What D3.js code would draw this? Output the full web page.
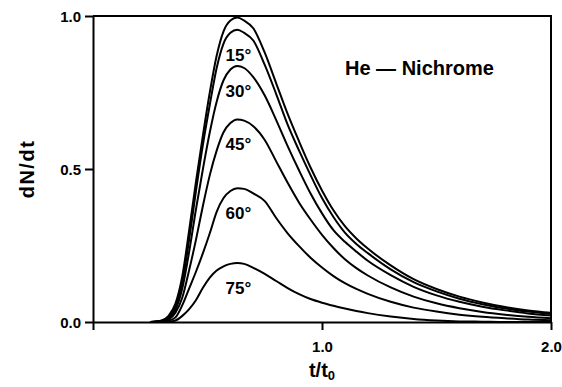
<!DOCTYPE html>
<html>
<head>
<meta charset="utf-8">
<script src="https://cdn.jsdelivr.net/npm/d3@7"></script>
<style>
  html, body { margin: 0; padding: 0; background: #fff; }
  svg { display: block; }
  text { font-family: "Liberation Sans", Arial, Helvetica, sans-serif; font-weight: bold; fill: #000; }
</style>
</head>
<body>
<svg id="chart" width="562" height="387"></svg>
<script>
// ---- data ----
const tValues = [0.25, 0.30, 0.33, 0.36, 0.39, 0.42, 0.45, 0.48, 0.51, 0.54, 0.57, 0.60, 0.63, 0.66, 0.70, 0.75, 0.80, 0.85, 0.90, 0.95, 1.00, 1.05, 1.10, 1.15, 1.20, 1.30, 1.40, 1.50, 1.60, 1.70, 1.80, 1.90, 2.00];
const angles = ["0°", "15°", "30°", "45°", "60°", "75°"];
const series0  = [0, .005, .02, .06, .15, .30, .46, .61, .75, .87, .95, .985, .995, .985, .96, .88, .78, .68, .59, .505, .43, .365, .313, .273, .24, .185, .14, .108, .083, .064, .049, .038, .03];
const series15 = [0, .004, .017, .05, .13, .27, .43, .58, .71, .83, .91, .945, .955, .945, .92, .84, .745, .645, .56, .48, .405, .343, .292, .255, .225, .172, .13, .10, .076, .058, .044, .034, .026];
const series30 = [0, .003, .013, .04, .11, .23, .37, .50, .62, .72, .79, .825, .837, .83, .80, .74, .66, .575, .495, .42, .355, .30, .262, .23, .20, .153, .115, .087, .066, .05, .038, .028, .021];
const series45 = [0, .002, .008, .03, .08, .17, .27, .38, .48, .56, .62, .65, .662, .658, .64, .595, .525, .455, .39, .335, .285, .242, .205, .176, .152, .113, .083, .061, .045, .033, .024, .017, .012];
const series60 = [0, .001, .004, .015, .055, .11, .165, .225, .29, .36, .405, .428, .437, .435, .42, .395, .34, .29, .248, .21, .178, .15, .127, .108, .092, .066, .047, .034, .024, .017, .012, .008, .006];
const series75 = [0, 0, .001, .005, .02, .042, .072, .112, .145, .168, .182, .19, .193, .19, .177, .157, .134, .111, .091, .075, .063, .053, .044, .036, .029, .018, .01, .005, .002, .001, 0, 0, 0];
const labelledAngles = ["15°", "30°", "45°", "60°", "75°"];
const labelT = 0.635;
const xTicks = [0, 1, 2];
const xTickLabels = ["", "1.0", "2.0"];
const yTicks = [0, 0.5, 1];
const yTickLabels = ["0.0", "0.5", "1.0"];
const seriesList = [series0, series15, series30, series45, series60, series75];

// ---- layout ----
const svg = d3.select("#chart");
const mLeft = 93, mRight = 551, mTop = 16, mBottom = 322;
const x = d3.scaleLinear().domain([0, 2]).range([mLeft, mRight]);
const y = d3.scaleLinear().domain([0, 1]).range([mBottom, mTop]);

// frame (top + right)
svg.append("path")
  .attr("d", `M${x(0)},${y(1)}H${x(2)}V${y(0)}`)
  .attr("fill", "none").attr("stroke", "#000").attr("stroke-width", 2);

// axes
const xAxis = d3.axisBottom(x).tickValues(xTicks).tickSize(8).tickSizeOuter(0)
  .tickFormat((d, i) => xTickLabels[i]);
const gx = svg.append("g").attr("transform", `translate(0,${mBottom})`).call(xAxis);
gx.select(".domain").attr("stroke-width", 2);
gx.selectAll(".tick line").attr("stroke-width", 2);
gx.selectAll(".tick text").attr("font-size", 15).attr("dy", 0).attr("y", 30)
  .attr("font-family", "'Liberation Sans', Arial, sans-serif").attr("font-weight", "bold");

const yAxis = d3.axisLeft(y).tickValues(yTicks).tickSize(8).tickSizeOuter(0)
  .tickFormat((d, i) => yTickLabels[i]);
const gy = svg.append("g").attr("transform", `translate(${mLeft},0)`).call(yAxis);
gy.select(".domain").attr("stroke-width", 2);
gy.selectAll(".tick line").attr("stroke-width", 2);
gy.selectAll(".tick text").attr("font-size", 15).attr("x", -12).attr("dy", "0.36em")
  .attr("font-family", "'Liberation Sans', Arial, sans-serif").attr("font-weight", "bold");

// curves
const line = d3.line()
  .x((d, i) => x(tValues[i]))
  .y(d => y(d))
  .curve(d3.curveMonotoneX);

svg.append("g").selectAll("path")
  .data(seriesList)
  .join("path")
  .attr("d", d => line(d))
  .attr("fill", "none")
  .attr("stroke", "#000")
  .attr("stroke-width", 2);

// angle labels under each peak
svg.append("g").selectAll("text")
  .data(labelledAngles)
  .join("text")
  .attr("x", x(labelT))
  .attr("y", d => y(d3.max(seriesList[angles.indexOf(d)])) + 31)
  .attr("text-anchor", "middle")
  .attr("font-size", 17)
  .text(d => d);

// title annotation
svg.append("text")
  .attr("x", 345).attr("y", 75)
  .attr("font-size", 20)
  .text("He — Nichrome");

// axis titles
svg.append("text")
  .attr("transform", `translate(34,${(mTop + mBottom) / 2}) rotate(-90)`)
  .attr("text-anchor", "middle")
  .attr("font-size", 20)
  .attr("letter-spacing", 1.5)
  .text("dN/dt");

const xt = svg.append("text")
  .attr("x", x(1)).attr("y", 377)
  .attr("text-anchor", "middle")
  .attr("font-size", 20);
xt.append("tspan").text("t/t");
xt.append("tspan").attr("font-size", 13).attr("dy", 3).text("0");
</script>
</body>
</html>
